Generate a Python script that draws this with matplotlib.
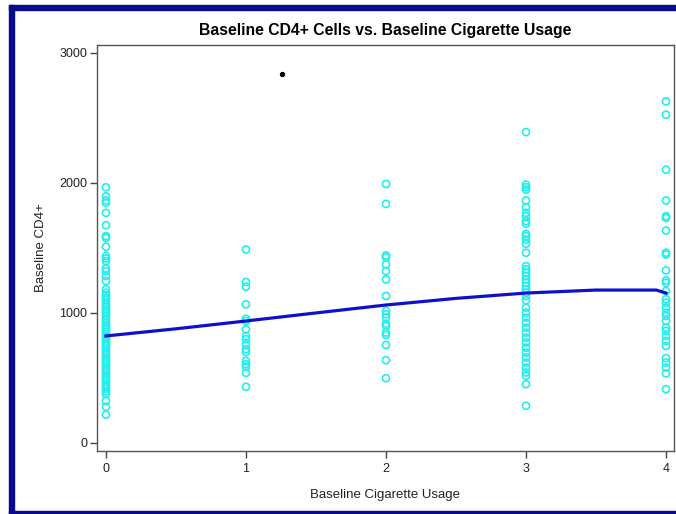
import matplotlib
matplotlib.use("Agg")
import matplotlib.pyplot as plt
from matplotlib.patches import Rectangle

plt.rcParams['font.family'] = ['Liberation Sans', 'DejaVu Sans']

title = "Baseline CD4+ Cells vs. Baseline Cigarette Usage"
x_label = "Baseline Cigarette Usage"
y_label = "Baseline CD4+"
x_ticks = [0, 1, 2, 3, 4]
y_ticks = [0, 1000, 2000, 3000]

# Baseline CD4+ counts grouped by cigarette usage level
cd4_usage0 = [1965, 1896, 1863, 1845, 1768, 1673, 1589, 1576, 1507, 1435, 1417,
              1397, 1341, 1320, 1282, 1243, 1180, 1154, 1135, 1115, 1098, 1080,
              1062, 1045, 1028, 1010, 992, 975, 958, 940, 922, 905, 888, 870,
              852, 835, 818, 800, 782, 765, 748, 730, 712, 695, 678, 660, 642,
              625, 608, 590, 572, 555, 538, 520, 502, 485, 468, 450, 432, 415,
              395, 375, 322, 276, 215]
cd4_usage1 = [1486, 1236, 1200, 1064, 954, 936, 872, 821, 796, 757, 719, 698,
              629, 604, 586, 537, 430]
cd4_usage2 = [1990, 1837, 1440, 1427, 1371, 1320, 1256, 1128, 1013, 988, 962,
              916, 898, 847, 829, 752, 634, 496]
cd4_usage3 = [2389, 1985, 1965, 1947, 1863, 1811, 1768, 1742, 1704, 1683, 1606,
              1589, 1563, 1530, 1461, 1358, 1333, 1307, 1282, 1256, 1230, 1205,
              1180, 1154, 1128, 1095, 1038, 1000, 962, 923, 885, 847, 808, 770,
              731, 693, 655, 616, 578, 540, 514, 450, 284]
cd4_usage4 = [2625, 2523, 2100, 1863, 1742, 1729, 1632, 1461, 1448, 1325, 1248,
              1230, 1167, 1103, 1077, 1038, 1000, 975, 936, 885, 860, 821, 783,
              744, 650, 616, 578, 532, 412]
groups = [cd4_usage0, cd4_usage1, cd4_usage2, cd4_usage3, cd4_usage4]

# Single highlighted observation
outlier_x = [1.26]
outlier_y = [2836]

# Smoothed trend
smooth_x = [0, 0.5, 1, 1.5, 2, 2.5, 3, 3.5, 3.93, 4]
smooth_y = [821, 876, 936, 998, 1059, 1110, 1151, 1174, 1174, 1151]

fig = plt.figure(figsize=(6.76, 5.14), dpi=100)
W, H = 676, 514

# Navy frame around the figure
navy = "#0a0a8c"
fig.patches.append(Rectangle((9 / W, 1 - 10 / H), 1 - 9 / W, 5 / H,
                             transform=fig.transFigure, color=navy, zorder=0))
fig.patches.append(Rectangle((9 / W, 0), 5 / W, 1 - 5 / H,
                             transform=fig.transFigure, color=navy, zorder=0))
fig.patches.append(Rectangle((9 / W, 0), 1 - 9 / W, 3 / H,
                             transform=fig.transFigure, color=navy, zorder=0))

ax = fig.add_axes([97 / W, 1 - 451 / H, (674 - 97) / W, (451 - 45) / H])

for lvl, vals in zip(x_ticks, groups):
    ax.scatter([lvl] * len(vals), vals, s=26, facecolors="none",
               edgecolors="#22eeee", linewidths=1.2, zorder=2)

ax.plot(smooth_x, smooth_y, color="#1010cc", linewidth=2.3, zorder=3)
ax.scatter(outlier_x, outlier_y, s=8, color="black", zorder=4)

ax.set_xlim(-0.064, 4.057)
ax.set_ylim(-64, 3059)
ax.set_xticks(x_ticks)
ax.set_yticks(y_ticks)
ax.tick_params(direction="out", length=5, width=1, color="#444444",
               labelsize=9, labelcolor="#222222")
ax.tick_params(axis="y", pad=2)
ax.tick_params(axis="x", pad=4)
for sp in ax.spines.values():
    sp.set_color("#555555")
    sp.set_linewidth(1)

ax.set_title(title, fontsize=11.3, fontweight="bold", pad=7)
ax.set_xlabel(x_label, fontsize=9.5, labelpad=10, color="#222222")
ax.set_ylabel(y_label, fontsize=9.5, labelpad=9, color="#222222")

fig.savefig("out.png", dpi=100)
